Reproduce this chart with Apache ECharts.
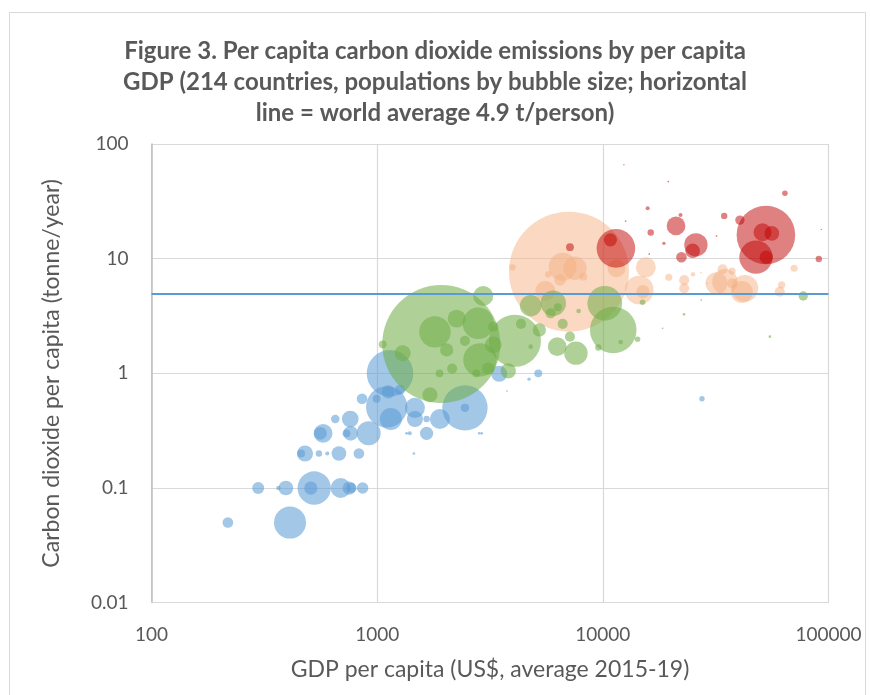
<!DOCTYPE html>
<html>
<head>
<meta charset="utf-8">
<script src="https://cdn.jsdelivr.net/npm/echarts@6/dist/echarts.min.js"></script>
<style>
  html, body { margin: 0; padding: 0; background: #fff; }
  #chart { width: 870px; height: 695px; }
</style>
</head>
<body>
<div id="chart"></div>
<script>
// GDP per capita (US$), CO2 per capita (t/year), population (millions), grouped by colour
const blueGdp = [218, 411, 297, 365, 394, 526, 508, 689, 752, 770, 862, 479, 460, 552, 601, 677, 830, 576, 560, 731, 763, 917, 652, 760, 857, 994, 1102, 1150, 1120, 1262, 1140, 1470, 1470, 1656, 1656, 1897, 2449, 2449, 1395, 1350, 1455, 2904, 2830, 3475, 5175, 4710, 3760, 27500];
const blueCo2 = [0.05, 0.05, 0.1, 0.1, 0.1, 0.1, 0.1, 0.1, 0.1, 0.1, 0.1, 0.2, 0.2, 0.2, 0.2, 0.2, 0.2, 0.3, 0.3, 0.3, 0.3, 0.3, 0.4, 0.4, 0.6, 0.6, 0.51, 0.4, 0.69, 0.72, 1.0, 0.5, 0.4, 0.4, 0.3, 0.4, 0.5, 0.5, 0.3, 0.3, 0.2, 0.3, 0.3, 0.99, 1.0, 0.89, 0.7, 0.6];
const bluePop = [11, 100, 14, 2, 21, 108, 17, 39, 17, 10, 13, 25, 6, 4, 1.6, 21, 11, 34, 16, 6, 21, 56, 7, 27, 11, 6, 166, 47, 17, 10, 211, 39, 25, 4, 17, 39, 200, 7, 1.6, 0.8, 0.7, 0.8, 0.6, 25, 6, 1.1, 0.3, 2.8];

const orangeGdp = [7080, 6640, 7520, 6460, 8190, 5560, 3980, 5730, 11500, 15500, 14500, 15060, 19600, 22950, 22950, 25100, 31900, 34750, 33950, 37400, 37400, 42600, 41300, 60800, 62000, 70400, 27200, 29000, 19000];
const orangeCo2 = [7.7, 8.5, 8.25, 6.52, 6.97, 5.23, 8.4, 7.31, 8.25, 8.41, 5.33, 5.16, 6.88, 6.5, 5.52, 7.3, 6.1, 6.3, 8.09, 7.8, 6.1, 5.52, 5.13, 5.15, 5.9, 8.25, 7.55, 6.1, 4.9];
const orangePop = [1400, 76, 53, 13, 6, 39, 4, 4, 31, 39, 80, 17, 5, 10, 10, 2, 47, 63, 10, 5, 10, 69, 47, 10, 5, 5, 0.3, 0.3, 0.3];

const greenGdp = [1923, 1803, 2250, 2805, 2032, 2150, 1890, 2449, 2853, 3268, 2951, 1297, 1058, 1714, 3268, 2750, 4080, 11120, 7600, 6280, 7150, 4340, 5230, 3810, 9550, 14250, 22900, 18400, 55000, 77300, 15000, 4790, 6030, 6310, 5870, 6640, 10200, 27300, 12000, 3105, 4790, 7810];
const greenCo2 = [1.8, 2.3, 3.0, 2.73, 1.6, 1.1, 1.0, 1.92, 1.31, 1.77, 4.73, 1.5, 1.79, 0.65, 2.55, 1.0, 1.92, 2.39, 1.5, 1.71, 2.09, 2.7, 2.39, 1.05, 1.68, 1.98, 3.27, 2.47, 2.09, 4.73, 4.17, 3.89, 4.08, 3.77, 3.34, 2.7, 4.08, 4.37, 1.88, 1.1, 1.71, 3.5];
const greenPop = [1354, 96, 31, 96, 17, 10, 6, 10, 108, 27, 39, 25, 6, 22, 10, 6, 263, 211, 53, 34, 10, 10, 17, 23, 4, 3, 0.7, 0.3, 0.7, 8.6, 3, 45, 63, 6, 10, 10, 117, 0.3, 2, 15, 2, 2];

const redGdp = [11430, 10800, 7150, 21100, 25850, 25000, 22300, 16300, 15800, 22100, 18650, 16060, 12620, 31900, 19500, 34500, 40500, 64100, 52800, 51000, 56100, 47700, 53000, 90600, 92900, 12400];
const redCo2 = [12.3, 14.6, 12.6, 19.3, 13.2, 11.7, 10.3, 16.9, 27.5, 24, 13.6, 11, 21.3, 15.8, 47, 23.6, 21.7, 37.2, 16.1, 17, 16.6, 10.3, 10.3, 9.94, 18, 66];
const redPop = [145, 17, 6, 34, 53, 21, 11, 4, 1.6, 1.6, 1.1, 0.3, 0.3, 0.3, 0.3, 4, 8.6, 3, 334, 31, 21, 108, 17, 4, 0.2, 0.2];

const worldAverage = 4.9;
const xTicks = [100, 1000, 10000, 100000];
const yTicks = [0.01, 0.1, 1, 10, 100];

const zip = (g, c, p) => g.map((v, i) => [v, c[i], p[i]]);
const TEXT = '#595959';
const FONT = 'Lato, "Open Sans", sans-serif';

function bubbles(name, data, color) {
  return {
    name, type: 'scatter', data,
    symbolSize: d => 120 * Math.sqrt(d[2] / 1400),
    itemStyle: { color, borderWidth: 0 },
    emphasis: { disabled: true },
    silent: true
  };
}

const chart = echarts.init(document.getElementById('chart'), null, { renderer: 'canvas' });
chart.setOption({
  animation: false,
  backgroundColor: '#fff',
  title: {
    text: 'Figure 3. Per capita carbon dioxide emissions by per capita\nGDP (214 countries, populations by bubble size; horizontal\nline = world average 4.9 t/person)',
    left: 'center', top: 31,
    textStyle: { fontFamily: FONT, fontWeight: 'bold', fontSize: 24, lineHeight: 31, color: TEXT }
  },
  graphic: [{
    type: 'rect', left: 7, top: 10, silent: true,
    shape: { x: 0, y: 0, width: 856, height: 700 },
    style: { fill: 'none', stroke: '#d9d9d9', lineWidth: 1 }
  }],
  grid: { left: 151.5, right: 41.5, top: 144, bottom: 92.3 },
  xAxis: {
    type: 'log', logBase: 10, min: xTicks[0], max: xTicks[xTicks.length - 1],
    name: 'GDP per capita (US$, average 2015-19)',
    nameLocation: 'middle', nameGap: 55,
    nameTextStyle: { fontFamily: FONT, fontSize: 23, color: TEXT },
    axisLine: { show: true, lineStyle: { color: '#d9d9d9', width: 1 } },
    axisTick: { show: false },
    axisLabel: { margin: 23, fontFamily: FONT, fontSize: 19, color: TEXT,
      formatter: v => String(Math.round(v)) },
    splitLine: { show: true, lineStyle: { color: '#d9d9d9', width: 1.2 } },
    minorTick: { show: false }
  },
  yAxis: {
    type: 'log', logBase: 10, min: yTicks[0], max: yTicks[yTicks.length - 1],
    name: 'Carbon dioxide per capita (tonne/year)',
    nameLocation: 'middle', nameGap: 88,
    nameTextStyle: { fontFamily: FONT, fontSize: 23, color: TEXT },
    axisLine: { show: true, lineStyle: { color: '#bfbfbf', width: 1.5 } },
    axisTick: { show: false },
    axisLabel: { margin: 23, fontFamily: FONT, fontSize: 19, color: TEXT,
      formatter: v => String(Number(v.toPrecision(6))) },
    splitLine: { show: true, lineStyle: { color: '#d9d9d9', width: 1.2 } }
  },
  series: [
    bubbles('blue', zip(blueGdp, blueCo2, bluePop), 'rgba(91,155,213,0.7)'),
    bubbles('orange', zip(orangeGdp, orangeCo2, orangePop), 'rgba(244,177,131,0.62)'),
    bubbles('green', zip(greenGdp, greenCo2, greenPop), 'rgba(112,173,71,0.7)'),
    Object.assign(bubbles('red', zip(redGdp, redCo2, redPop), 'rgba(192,0,0,0.62)'), {
      markLine: {
        silent: true, symbol: 'none', label: { show: false },
        lineStyle: { color: '#5B9BD5', width: 2, type: 'solid' },
        data: [{ yAxis: worldAverage }]
      }
    })
  ]
});
</script>
</body>
</html>
